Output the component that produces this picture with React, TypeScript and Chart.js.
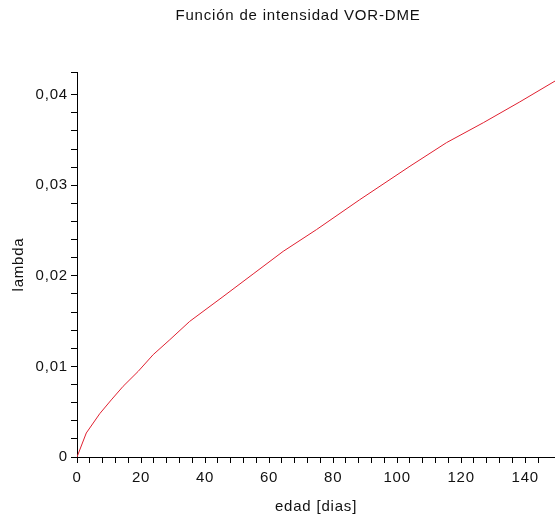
import React, { useEffect, useRef } from "react";
import { Chart, registerables } from "chart.js";

Chart.register(...registerables);

const chartTitle = "Función de intensidad VOR-DME";
const xAxisTitle = "edad [dias]";
const yAxisTitle = "lambda";

// edad (días)
const edad = [0, 2.9, 7.1, 10.7, 14.4, 19.1, 23.8, 29, 35.2, 45.6, 55, 64.4, 74.8, 88.3, 104, 115.4, 126.9, 138.3, 149.3];
// intensidad lambda
const lambda = [0, 0.00265, 0.00478, 0.0063, 0.0078, 0.00945, 0.0113, 0.01295, 0.01497, 0.0177, 0.0202, 0.0227, 0.0251, 0.0284, 0.0321, 0.0347, 0.0369, 0.0392, 0.0415];

const FONT = "'Liberation Sans', Arial, Helvetica, sans-serif";
const TEXT = "#111";

export default function App() {
  const ref = useRef<HTMLCanvasElement | null>(null);

  useEffect(() => {
    if (!ref.current) return;
    const spacing = {
      id: "spacing",
      beforeLayout(c: any) { (c.ctx as any).letterSpacing = "0.8px"; },
      beforeDraw(c: any) { (c.ctx as any).letterSpacing = "0.8px"; },
      afterDraw(c: any) {
        const ctx = c.ctx;
        ctx.save();
        (ctx as any).letterSpacing = "0.8px";
        ctx.font = `15px ${FONT}`;
        ctx.fillStyle = TEXT;
        ctx.textAlign = "center";
        ctx.textBaseline = "middle";
        ctx.fillText(chartTitle, 298, 16);
        ctx.restore();
      },
    };
    const chart = new Chart(ref.current, {
      type: "scatter",
      data: {
        datasets: [
          {
            data: edad.map((t, i) => ({ x: t, y: lambda[i] })),
            showLine: true,
            borderColor: "#e02030",
            borderWidth: 1,
            pointRadius: 0,
            tension: 0,
          },
        ],
      },
      options: {
        animation: false,
        responsive: false,
        devicePixelRatio: 1,
        layout: { padding: { top: 72, left: 0, right: 0, bottom: 0 } },
        plugins: { legend: { display: false }, tooltip: { enabled: false }, title: { display: false } },
        scales: {
          x: {
            type: "linear",
            min: 0,
            max: 149.3,
            afterFit(s: any) { s.height = 61; s.paddingRight = 0; s.paddingLeft = 0; },
            border: { display: true, color: "#000", width: 1 },
            grid: { display: true, drawOnChartArea: false, drawTicks: true, tickLength: 6, color: "#000" },
            ticks: {
              stepSize: 4,
              autoSkip: false,
              maxRotation: 0,
              padding: 6,
              color: TEXT,
              font: { family: FONT, size: 15 },
              callback: (v: any) => {
                const n = Number(v);
                return Math.abs(n / 20 - Math.round(n / 20)) < 1e-6 ? String(Math.round(n)) : "";
              },
            },
            title: { display: true, text: xAxisTitle, color: TEXT, font: { family: FONT, size: 15 }, padding: { top: 0, bottom: 2 } },
          },
          y: {
            type: "linear",
            min: 0,
            max: 0.0425,
            afterFit(s: any) { s.width = 77; s.paddingTop = 0; s.paddingBottom = 0; },
            border: { display: true, color: "#000", width: 1 },
            grid: { display: true, drawOnChartArea: false, drawTicks: true, tickLength: 6, color: "#000" },
            ticks: {
              stepSize: 0.002,
              autoSkip: false,
              padding: 3,
              color: TEXT,
              font: { family: FONT, size: 15 },
              callback: (v: any) => {
                const n = Number(v);
                if (Math.abs(n) < 1e-9) return "0";
                if (Math.abs(n * 100 - Math.round(n * 100)) < 1e-6) return n.toFixed(2).replace(".", ",");
                return "";
              },
            },
            title: { display: true, text: yAxisTitle, color: TEXT, font: { family: FONT, size: 15 }, padding: { top: 10, bottom: 0 } },
          },
        },
      },
      plugins: [spacing],
    } as any);
    return () => chart.destroy();
  }, []);

  return (
    <div style={{ position: "absolute", left: 0, top: 0, width: 555, height: 518, background: "#fff" }}>
      <canvas ref={ref} width={555} height={518} style={{ display: "block", width: 555, height: 518 }} />
    </div>
  );
}
